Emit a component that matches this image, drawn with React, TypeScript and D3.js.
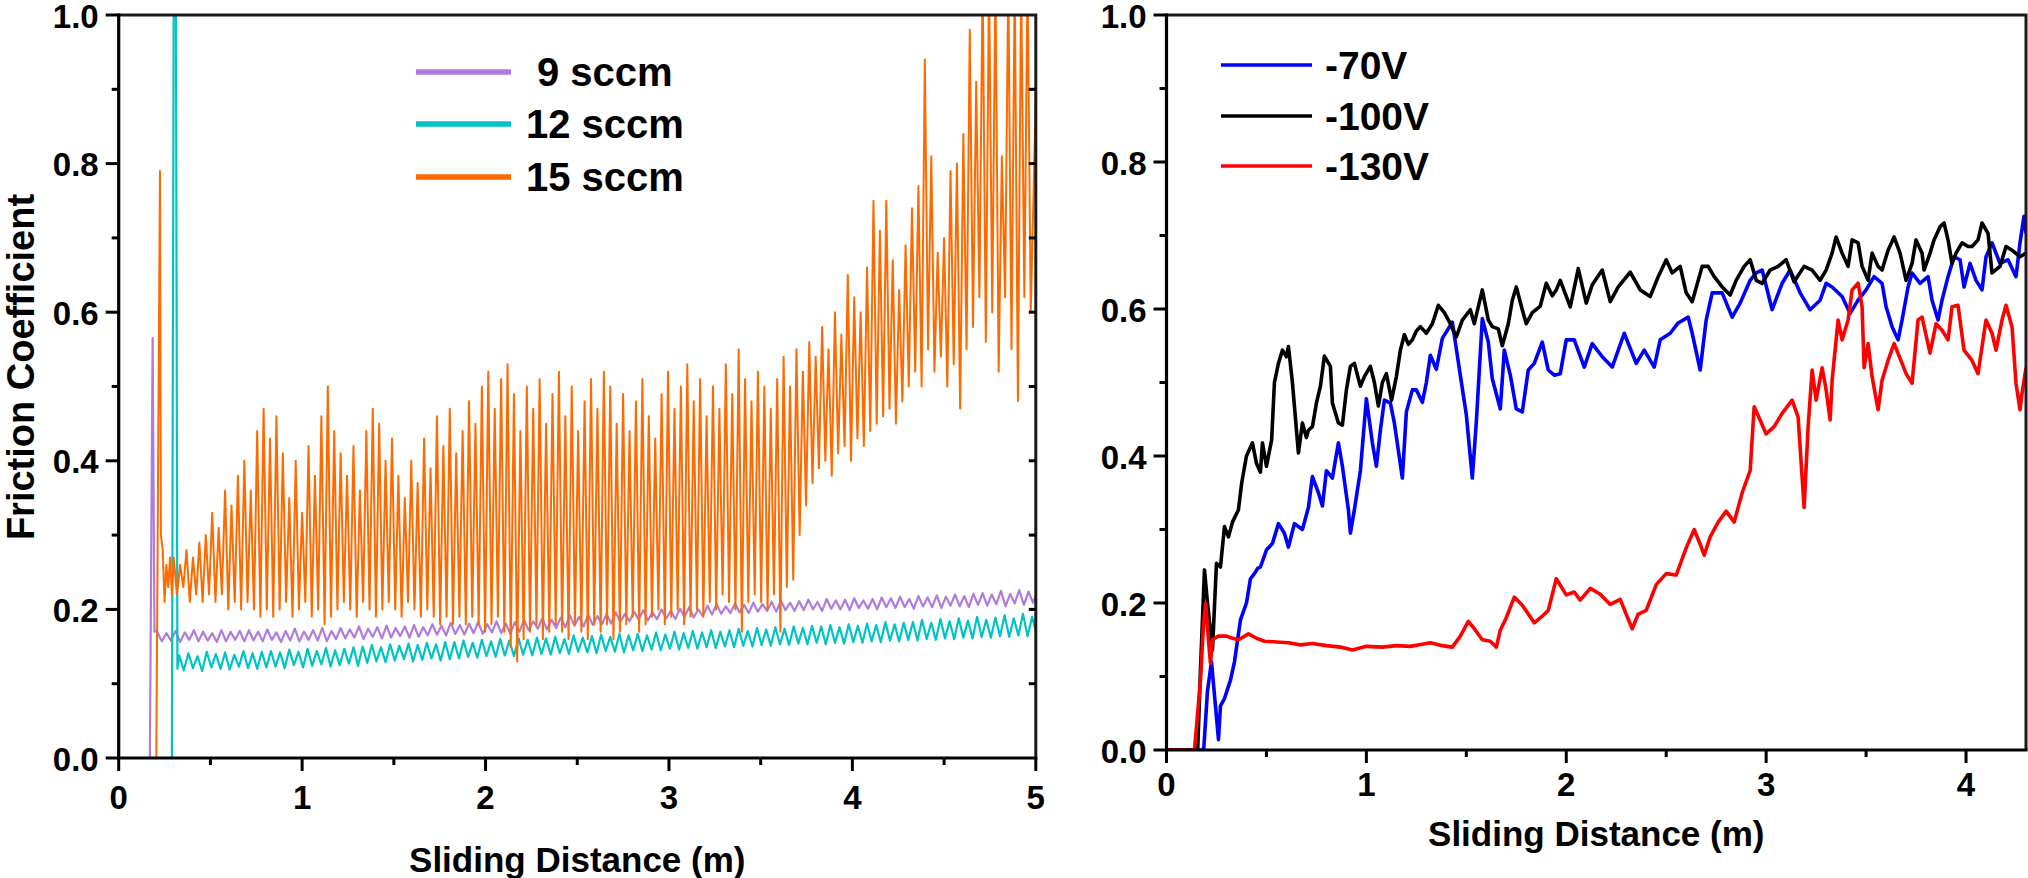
import React from "react";
import * as d3 from "d3";

type Pt = [number, number];

// ---------- left panel: gas flow series ----------
const flowNames = ["9 sccm", "12 sccm", "15 sccm"];
const flowColors = ["#B07CDC", "#00C4C4", "#FF6A00"];

// 9 sccm: run-in spike, then oscillating band (peaks / troughs every 0.05 m from 0.21 m)
const purpleStart: Pt[] = [[0, 0], [0.17, 0], [0.185, 0.565], [0.195, 0.17]];
const purplePeaks = [
  0.170, 0.168, 0.171, 0.169, 0.172, 0.170, 0.168, 0.172, 0.170, 0.171,
  0.172, 0.170, 0.173, 0.169, 0.171, 0.174, 0.170, 0.172, 0.175, 0.171,
  0.175, 0.173, 0.177, 0.174, 0.176, 0.178, 0.175, 0.177, 0.179, 0.176,
  0.180, 0.178, 0.182, 0.179, 0.181, 0.183, 0.180, 0.184, 0.181, 0.183,
  0.186, 0.184, 0.188, 0.186, 0.189, 0.192, 0.190, 0.193, 0.191, 0.194,
  0.196, 0.194, 0.197, 0.199, 0.196, 0.200, 0.198, 0.201, 0.203, 0.200,
  0.205, 0.207, 0.204, 0.208, 0.206, 0.209, 0.207, 0.210, 0.212, 0.209,
  0.211, 0.213, 0.210, 0.214, 0.212, 0.213, 0.215, 0.212, 0.214, 0.216,
  0.215, 0.217, 0.214, 0.218, 0.216, 0.219, 0.217, 0.220, 0.218, 0.221,
  0.222, 0.220, 0.225, 0.221, 0.226, 0.224,
];
const purpleTroughs = [
  0.157, 0.158, 0.156, 0.159, 0.157, 0.158, 0.156, 0.157, 0.159, 0.157,
  0.158, 0.157, 0.159, 0.156, 0.158, 0.157, 0.159, 0.158, 0.157, 0.160,
  0.161, 0.162, 0.160, 0.163, 0.161, 0.162, 0.164, 0.162, 0.163, 0.165,
  0.166, 0.165, 0.167, 0.166, 0.168, 0.167, 0.169, 0.168, 0.167, 0.170,
  0.172, 0.174, 0.173, 0.175, 0.176, 0.178, 0.177, 0.179, 0.180, 0.181,
  0.183, 0.184, 0.186, 0.185, 0.187, 0.188, 0.187, 0.190, 0.189, 0.191,
  0.193, 0.194, 0.195, 0.196, 0.195, 0.197, 0.198, 0.197, 0.199, 0.198,
  0.199, 0.200, 0.198, 0.201, 0.200, 0.199, 0.202, 0.201, 0.200, 0.203,
  0.202, 0.203, 0.201, 0.204, 0.203, 0.202, 0.205, 0.204, 0.203, 0.206,
  0.205, 0.207, 0.204, 0.208, 0.206, 0.209,
];
const purpleEnd: Pt[] = [[5.0, 0.218]];

// 12 sccm: spike off scale, then band (every 0.05 m from 0.33 m)
const cyanStart: Pt[] = [[0, 0], [0.29, 0], [0.30, 1.03], [0.312, 1.03], [0.32, 0.12]];
const cyanPeaks = [
  0.138, 0.141, 0.137, 0.143, 0.140, 0.142, 0.139, 0.144, 0.141, 0.143,
  0.144, 0.142, 0.146, 0.143, 0.147, 0.144, 0.148, 0.145, 0.147, 0.149,
  0.150, 0.152, 0.149, 0.153, 0.151, 0.154, 0.152, 0.155, 0.153, 0.156,
  0.156, 0.158, 0.155, 0.159, 0.157, 0.160, 0.158, 0.161, 0.159, 0.162,
  0.161, 0.163, 0.160, 0.165, 0.162, 0.164, 0.166, 0.163, 0.167, 0.165,
  0.167, 0.165, 0.169, 0.166, 0.170, 0.168, 0.171, 0.169, 0.172, 0.170,
  0.172, 0.174, 0.171, 0.175, 0.173, 0.176, 0.174, 0.177, 0.175, 0.178,
  0.177, 0.179, 0.176, 0.180, 0.178, 0.181, 0.179, 0.183, 0.180, 0.182,
  0.183, 0.186, 0.182, 0.187, 0.184, 0.188, 0.185, 0.190, 0.186, 0.189,
  0.192, 0.188, 0.194, 0.190,
];
const cyanTroughs = [
  0.118, 0.121, 0.117, 0.122, 0.120, 0.119, 0.123, 0.121, 0.120, 0.122,
  0.123, 0.121, 0.125, 0.122, 0.124, 0.126, 0.123, 0.125, 0.127, 0.124,
  0.128, 0.130, 0.129, 0.131, 0.133, 0.130, 0.132, 0.134, 0.131, 0.133,
  0.134, 0.136, 0.135, 0.137, 0.136, 0.138, 0.137, 0.139, 0.138, 0.140,
  0.139, 0.141, 0.140, 0.143, 0.142, 0.141, 0.144, 0.143, 0.142, 0.145,
  0.144, 0.146, 0.145, 0.147, 0.146, 0.148, 0.147, 0.149, 0.148, 0.150,
  0.149, 0.151, 0.150, 0.152, 0.151, 0.153, 0.152, 0.154, 0.153, 0.155,
  0.153, 0.155, 0.154, 0.156, 0.155, 0.157, 0.156, 0.158, 0.157, 0.159,
  0.158, 0.160, 0.159, 0.161, 0.160, 0.162, 0.161, 0.163, 0.162, 0.164,
  0.163, 0.165, 0.164, 0.166,
];
const cyanEnd: Pt[] = [[5.0, 0.185]];

// 15 sccm: stick-slip, peaks / troughs every 0.035 m from 0.30 m
const orangeStart: Pt[] = [
  [0, 0], [0.205, 0], [0.225, 0.79], [0.23, 0.30], [0.24, 0.28], [0.25, 0.21],
  [0.26, 0.26], [0.27, 0.23], [0.28, 0.27], [0.29, 0.22],
];
const orangePeaks = [
  0.27, 0.26, 0.28, 0.27, 0.29, 0.30,
  0.33, 0.31, 0.36, 0.34, 0.38,
  0.40, 0.36, 0.44, 0.47, 0.43,
  0.46, 0.41, 0.35, 0.40, 0.33,
  0.42, 0.38, 0.46, 0.50, 0.44,
  0.41, 0.38, 0.42, 0.36, 0.44,
  0.47, 0.45, 0.40, 0.43, 0.38,
  0.35, 0.40, 0.37, 0.43, 0.39,
  0.46, 0.42, 0.47, 0.41, 0.44,
  0.48, 0.45, 0.50, 0.52, 0.47,
  0.51, 0.53, 0.49, 0.44, 0.50,
  0.47, 0.51, 0.45, 0.49, 0.52,
  0.46, 0.50, 0.44, 0.48, 0.51,
  0.47, 0.52, 0.50, 0.45, 0.49,
  0.44, 0.48, 0.51, 0.46, 0.43,
  0.49, 0.52, 0.47, 0.50, 0.53,
  0.48, 0.51, 0.46, 0.50, 0.47,
  0.53, 0.49, 0.55, 0.51, 0.48,
  0.52, 0.50, 0.47, 0.51, 0.54,
  0.50, 0.55, 0.52, 0.56, 0.54,
  0.58, 0.55, 0.60, 0.57, 0.65,
  0.62, 0.60, 0.66, 0.75, 0.71,
  0.75, 0.67, 0.63, 0.69, 0.74,
  0.77, 0.94, 0.81, 0.68, 0.70,
  0.79, 0.80, 0.84, 0.98, 0.91,
  1.05, 1.05, 1.05, 0.81, 1.05,
  1.05, 1.05, 1.05,
];
const orangeTroughs = [
  0.22, 0.23, 0.21, 0.22, 0.21, 0.22,
  0.21, 0.22, 0.20, 0.21, 0.20,
  0.21, 0.20, 0.19, 0.20, 0.19,
  0.20, 0.21, 0.19, 0.20, 0.21,
  0.19, 0.20, 0.18, 0.19, 0.20,
  0.21, 0.20, 0.19, 0.21, 0.20,
  0.19, 0.20, 0.21, 0.20, 0.19,
  0.21, 0.20, 0.19, 0.20, 0.19,
  0.18, 0.19, 0.18, 0.19, 0.18,
  0.19, 0.18, 0.17, 0.18, 0.19,
  0.17, 0.15, 0.13, 0.16, 0.17,
  0.18, 0.16, 0.17, 0.18, 0.17,
  0.16, 0.18, 0.17, 0.16, 0.18,
  0.17, 0.18, 0.16, 0.17, 0.18,
  0.19, 0.17, 0.18, 0.19, 0.20,
  0.18, 0.19, 0.20, 0.18, 0.19,
  0.20, 0.19, 0.21, 0.20, 0.22,
  0.21, 0.20, 0.17, 0.21, 0.22,
  0.21, 0.20, 0.22, 0.17, 0.23,
  0.24, 0.30, 0.34, 0.37, 0.39,
  0.40, 0.38, 0.41, 0.42, 0.40,
  0.43, 0.42, 0.44, 0.45, 0.46,
  0.47, 0.45, 0.48, 0.50, 0.52,
  0.50, 0.55, 0.52, 0.54, 0.50,
  0.53, 0.47, 0.55, 0.58, 0.62,
  0.56, 0.60, 0.52, 0.62, 0.55,
  0.48, 0.62, 0.60,
];
const orangeEnd: Pt[] = [[5.0, 0.89]];

// ---------- right panel: bias voltage series ----------
const biasNames = ["-70V", "-100V", "-130V"];
const biasColors = ["#0000FF", "#000000", "#FF0000"];

const blue70: Pt[] = [
  [0, 0], [0.186, 0], [0.205, 0.08], [0.225, 0.12], [0.245, 0.06], [0.26, 0.014], [0.27, 0.06],
  [0.29, 0.07], [0.32, 0.095], [0.34, 0.12], [0.37, 0.177], [0.40, 0.2], [0.42, 0.233], [0.44, 0.24],
  [0.456, 0.247], [0.47, 0.249], [0.50, 0.272], [0.53, 0.281], [0.56, 0.308], [0.59, 0.295],
  [0.61, 0.276], [0.64, 0.308], [0.68, 0.30], [0.71, 0.33], [0.73, 0.372], [0.76, 0.35],
  [0.78, 0.332], [0.80, 0.38], [0.83, 0.37], [0.86, 0.418], [0.88, 0.386], [0.91, 0.327],
  [0.92, 0.295], [0.94, 0.327], [0.97, 0.38], [1.00, 0.478], [1.03, 0.418], [1.05, 0.386],
  [1.07, 0.435], [1.09, 0.476], [1.12, 0.472], [1.14, 0.445], [1.18, 0.37], [1.20, 0.46],
  [1.23, 0.49], [1.25, 0.49], [1.28, 0.473], [1.30, 0.50], [1.32, 0.537], [1.35, 0.518],
  [1.38, 0.56], [1.43, 0.582], [1.47, 0.51], [1.50, 0.456], [1.53, 0.37], [1.55, 0.446],
  [1.58, 0.587], [1.61, 0.555], [1.63, 0.505], [1.67, 0.464], [1.69, 0.544], [1.72, 0.51],
  [1.75, 0.464], [1.78, 0.46], [1.81, 0.517], [1.84, 0.526], [1.88, 0.555], [1.91, 0.517],
  [1.94, 0.51], [1.97, 0.512], [2.00, 0.558], [2.04, 0.558], [2.09, 0.521], [2.13, 0.553],
  [2.18, 0.535], [2.23, 0.521], [2.29, 0.567], [2.35, 0.526], [2.39, 0.544], [2.44, 0.521],
  [2.47, 0.558], [2.52, 0.567], [2.56, 0.581], [2.61, 0.589], [2.63, 0.567], [2.67, 0.517],
  [2.70, 0.585], [2.73, 0.622], [2.78, 0.622], [2.83, 0.589], [2.87, 0.608], [2.92, 0.639],
  [2.95, 0.649], [2.98, 0.653], [3.03, 0.599], [3.08, 0.635], [3.12, 0.653], [3.17, 0.622],
  [3.22, 0.599], [3.27, 0.612], [3.30, 0.635], [3.33, 0.63], [3.38, 0.617], [3.42, 0.594],
  [3.46, 0.612], [3.50, 0.626], [3.54, 0.644], [3.58, 0.635], [3.60, 0.603], [3.63, 0.576],
  [3.66, 0.558], [3.68, 0.585], [3.71, 0.63], [3.73, 0.649], [3.77, 0.635], [3.81, 0.644],
  [3.83, 0.612], [3.86, 0.585], [3.88, 0.612], [3.91, 0.644], [3.94, 0.671], [3.97, 0.667],
  [3.99, 0.63], [4.02, 0.662], [4.05, 0.639], [4.08, 0.626], [4.10, 0.671], [4.13, 0.69],
  [4.17, 0.662], [4.21, 0.667], [4.25, 0.644], [4.27, 0.69], [4.29, 0.726], [4.30, 0.703],
];

const black100: Pt[] = [
  [0, 0], [0.156, 0], [0.17, 0.11], [0.19, 0.245], [0.205, 0.2], [0.23, 0.136], [0.25, 0.254],
  [0.27, 0.249], [0.29, 0.304], [0.31, 0.29], [0.33, 0.31], [0.36, 0.327], [0.376, 0.363],
  [0.40, 0.40], [0.43, 0.418], [0.45, 0.39], [0.47, 0.378], [0.48, 0.418], [0.50, 0.386],
  [0.526, 0.422], [0.54, 0.50], [0.56, 0.526], [0.58, 0.544], [0.60, 0.535], [0.61, 0.549],
  [0.63, 0.50], [0.66, 0.404], [0.68, 0.445], [0.70, 0.425], [0.71, 0.435], [0.73, 0.44],
  [0.75, 0.472], [0.77, 0.495], [0.79, 0.536], [0.82, 0.522], [0.83, 0.472], [0.86, 0.445],
  [0.88, 0.442], [0.90, 0.49], [0.92, 0.522], [0.94, 0.526], [0.97, 0.495], [0.99, 0.508],
  [1.02, 0.522], [1.04, 0.50], [1.06, 0.468], [1.08, 0.50], [1.10, 0.512], [1.126, 0.476],
  [1.15, 0.508], [1.17, 0.544], [1.19, 0.565], [1.21, 0.552], [1.23, 0.558], [1.25, 0.57],
  [1.27, 0.576], [1.30, 0.567], [1.33, 0.58], [1.36, 0.605], [1.39, 0.595], [1.42, 0.58],
  [1.45, 0.562], [1.48, 0.585], [1.52, 0.599], [1.54, 0.58], [1.58, 0.626], [1.61, 0.585],
  [1.63, 0.576], [1.66, 0.573], [1.68, 0.55], [1.71, 0.58], [1.73, 0.612], [1.75, 0.63],
  [1.78, 0.599], [1.80, 0.58], [1.83, 0.595], [1.87, 0.604], [1.90, 0.635], [1.93, 0.618],
  [1.95, 0.626], [1.97, 0.639], [2.02, 0.603], [2.06, 0.655], [2.10, 0.608], [2.13, 0.633],
  [2.18, 0.653], [2.22, 0.61], [2.26, 0.63], [2.32, 0.65], [2.37, 0.626], [2.42, 0.617],
  [2.46, 0.644], [2.50, 0.667], [2.53, 0.649], [2.57, 0.658], [2.60, 0.622], [2.63, 0.61],
  [2.68, 0.658], [2.71, 0.658], [2.74, 0.644], [2.78, 0.63], [2.82, 0.619], [2.85, 0.639],
  [2.89, 0.658], [2.92, 0.667], [2.95, 0.639], [2.98, 0.635], [3.02, 0.653], [3.06, 0.658],
  [3.10, 0.667], [3.14, 0.637], [3.19, 0.658], [3.23, 0.653], [3.27, 0.639], [3.30, 0.653],
  [3.33, 0.676], [3.35, 0.698], [3.38, 0.676], [3.41, 0.658], [3.43, 0.694], [3.46, 0.69],
  [3.48, 0.658], [3.51, 0.639], [3.53, 0.676], [3.56, 0.658], [3.58, 0.653], [3.61, 0.68],
  [3.64, 0.698], [3.67, 0.676], [3.70, 0.639], [3.73, 0.662], [3.75, 0.694], [3.78, 0.676],
  [3.79, 0.653], [3.82, 0.676], [3.84, 0.694], [3.87, 0.712], [3.89, 0.717], [3.91, 0.694],
  [3.93, 0.662], [3.95, 0.676], [3.98, 0.69], [4.01, 0.685], [4.03, 0.685], [4.06, 0.694],
  [4.08, 0.717], [4.11, 0.703], [4.13, 0.649], [4.17, 0.658], [4.20, 0.685], [4.23, 0.68],
  [4.27, 0.671], [4.30, 0.676],
];

const red130: Pt[] = [
  [0, 0], [0.14, 0], [0.17, 0.095], [0.185, 0.17], [0.196, 0.20], [0.21, 0.15], [0.22, 0.118],
  [0.23, 0.15], [0.26, 0.155], [0.30, 0.155], [0.33, 0.152], [0.36, 0.15], [0.41, 0.158],
  [0.45, 0.152], [0.49, 0.148], [0.55, 0.147], [0.61, 0.146], [0.67, 0.143], [0.73, 0.145],
  [0.80, 0.142], [0.87, 0.14], [0.93, 0.136], [1.00, 0.141], [1.08, 0.14], [1.15, 0.142],
  [1.22, 0.141], [1.28, 0.144], [1.32, 0.146], [1.38, 0.142], [1.43, 0.14], [1.47, 0.155],
  [1.51, 0.175], [1.54, 0.165], [1.58, 0.15], [1.62, 0.148], [1.65, 0.14], [1.67, 0.163],
  [1.70, 0.18], [1.74, 0.208], [1.78, 0.197], [1.81, 0.185], [1.84, 0.173], [1.88, 0.182],
  [1.91, 0.19], [1.95, 0.233], [2.00, 0.211], [2.04, 0.215], [2.07, 0.204], [2.12, 0.22],
  [2.17, 0.212], [2.22, 0.198], [2.27, 0.205], [2.31, 0.178], [2.33, 0.165], [2.36, 0.185],
  [2.40, 0.19], [2.45, 0.225], [2.50, 0.24], [2.55, 0.238], [2.60, 0.275], [2.64, 0.30],
  [2.67, 0.28], [2.69, 0.265], [2.72, 0.29], [2.76, 0.31], [2.80, 0.325], [2.84, 0.31],
  [2.88, 0.35], [2.92, 0.38], [2.94, 0.467], [2.97, 0.449], [3.00, 0.43], [3.04, 0.44],
  [3.08, 0.458], [3.13, 0.476], [3.16, 0.453], [3.19, 0.33], [3.21, 0.44], [3.23, 0.517],
  [3.25, 0.476], [3.28, 0.52], [3.30, 0.49], [3.32, 0.449], [3.33, 0.503], [3.36, 0.585],
  [3.38, 0.558], [3.41, 0.585], [3.43, 0.626], [3.46, 0.635], [3.48, 0.603], [3.49, 0.52],
  [3.51, 0.553], [3.53, 0.508], [3.56, 0.463], [3.58, 0.503], [3.61, 0.53], [3.64, 0.553],
  [3.68, 0.526], [3.70, 0.512], [3.73, 0.499], [3.76, 0.585], [3.78, 0.589], [3.82, 0.54],
  [3.85, 0.58], [3.88, 0.571], [3.91, 0.558], [3.93, 0.603], [3.96, 0.605], [3.99, 0.544],
  [4.03, 0.53], [4.06, 0.512], [4.10, 0.585], [4.13, 0.567], [4.15, 0.544], [4.18, 0.585],
  [4.20, 0.605], [4.23, 0.576], [4.25, 0.499], [4.27, 0.463], [4.28, 0.485], [4.30, 0.52],
];

const yTicks = [0, 0.2, 0.4, 0.6, 0.8, 1.0];
const yMinor = [0.1, 0.3, 0.5, 0.7, 0.9];
const xTicksLeft = [0, 1, 2, 3, 4, 5];
const xTicksRight = [0, 1, 2, 3, 4];
const xMinor = [0.5, 1.5, 2.5, 3.5, 4.5];

// join peak/trough samples taken at a fixed sampling step
function sampled(start: number, step: number, hi: number[], lo: number[]): Pt[] {
  const out: Pt[] = [];
  hi.forEach((h, i) => {
    out.push([start + i * step, h]);
    if (i < lo.length) out.push([start + i * step + step / 2, lo[i]]);
  });
  return out;
}

const FONT = "'Liberation Sans', Arial, Helvetica, sans-serif";
const fmt = d3.format(".1f");

function Panel({ id, x, y, xTicks, series, widths, names, colors, legend, showFrameTicks, titleY, tickY }: any) {
  const [x0, x1] = x.range();
  const [y0, y1] = y.range();
  const line = d3.line<Pt>().x((d) => x(d[0])).y((d) => y(d[1])).curve(d3.curveLinear);
  const minorX = xMinor.filter((v) => v < x.domain()[1]);
  return (
    <g>
      <defs>
        <clipPath id={id}>
          <rect x={x0} y={y1} width={x1 - x0} height={y0 - y1} />
        </clipPath>
      </defs>
      <g clipPath={`url(#${id})`}>
        {series.map((s: Pt[], i: number) => (
          <path key={i} d={line(s) || ""} fill="none" stroke={colors[i]} strokeWidth={widths[i]} strokeLinejoin="round" />
        ))}
      </g>
      {/* frame */}
      <path d={`M${x0},${y1}H${x1}V${y0}`} fill="none" stroke="#1a1a1a" strokeWidth={3} />
      <line x1={x0} x2={x1 + 1.5} y1={y0} y2={y0} stroke="#000" strokeWidth={3.2} />
      <line x1={x0} x2={x0} y1={y1 - 1.5} y2={y0 + 1.5} stroke="#000" strokeWidth={3.2} />
      {/* y ticks */}
      {yTicks.map((t) => (
        <g key={"y" + t}>
          <line x1={x0 - 13} x2={x0} y1={y(t)} y2={y(t)} stroke="#000" strokeWidth={3} />
          <text x={x0 - 20} y={y(t) + 12.5} textAnchor="end" fontFamily={FONT} fontWeight="bold" fontSize={33}>
            {fmt(t)}
          </text>
        </g>
      ))}
      {yMinor.map((t) => (
        <line key={"ym" + t} x1={x0 - 7} x2={x0} y1={y(t)} y2={y(t)} stroke="#000" strokeWidth={3} />
      ))}
      {showFrameTicks &&
        [...yTicks.slice(1, -1), ...yMinor].map((t) => (
          <line key={"yr" + t} x1={x1 - 7} x2={x1} y1={y(t)} y2={y(t)} stroke="#000" strokeWidth={3} />
        ))}
      {/* x ticks */}
      {xTicks.map((t: number) => (
        <g key={"x" + t}>
          <line x1={x(t)} x2={x(t)} y1={y0} y2={y0 + 13} stroke="#000" strokeWidth={3} />
          <text x={x(t)} y={y0 + tickY} textAnchor="middle" fontFamily={FONT} fontWeight="bold" fontSize={33}>
            {t}
          </text>
        </g>
      ))}
      {minorX.map((t) => (
        <line key={"xm" + t} x1={x(t)} x2={x(t)} y1={y0} y2={y0 + 7} stroke="#000" strokeWidth={3} />
      ))}
      <text x={(x0 + x1) / 2} y={titleY} textAnchor="middle" fontFamily={FONT} fontWeight="bold" fontSize={35}>
        Sliding Distance (m)
      </text>
      {/* legend */}
      {names.map((n: string, i: number) => (
        <g key={n}>
          <line x1={legend.x1} x2={legend.x2} y1={legend.y[i]} y2={legend.y[i]} stroke={colors[i]} strokeWidth={legend.w} />
          <text x={legend.tx[i]} y={legend.y[i] + 14} fontFamily={FONT} fontWeight="bold" fontSize={legend.fs}>
            {n}
          </text>
        </g>
      ))}
    </g>
  );
}

export default function App() {
  const xL = d3.scaleLinear().domain([0, 5]).range([118.7, 1035.8]);
  const yL = d3.scaleLinear().domain([0, 1]).range([758, 15]);
  const xR = d3.scaleLinear().domain([0, 4.3]).range([1166.5, 2026]);
  const yR = d3.scaleLinear().domain([0, 1]).range([750, 15]);

  const purple = [...purpleStart, ...sampled(0.21, 0.05, purplePeaks, purpleTroughs), ...purpleEnd];
  const cyan = [...cyanStart, ...sampled(0.33, 0.05, cyanPeaks, cyanTroughs), ...cyanEnd];
  const orange = [...orangeStart, ...sampled(0.30, 0.035, orangePeaks, orangeTroughs), ...orangeEnd];

  return (
    <svg width={2028} height={878} style={{ position: "absolute", left: 0, top: 0, background: "#fff" }}>
      <rect width={2028} height={878} fill="#fff" />
      <Panel
        id="clipL"
        x={xL}
        y={yL}
        xTicks={xTicksLeft}
        series={[purple, cyan, orange]}
        widths={[2.2, 2.2, 2.0]}
        names={flowNames}
        colors={flowColors}
        legend={{ x1: 416, x2: 511, y: [72, 124, 177], tx: [537, 526, 526], w: 5.5, fs: 40 }}
        showFrameTicks={true}
        titleY={872}
        tickY={51}
      />
      <Panel
        id="clipR"
        x={xR}
        y={yR}
        xTicks={xTicksRight}
        series={[blue70, black100, red130]}
        widths={[3.6, 3.6, 3.6]}
        names={biasNames}
        colors={biasColors}
        legend={{ x1: 1221, x2: 1312, y: [65, 116, 166], tx: [1325, 1325, 1325], w: 3.5, fs: 39 }}
        showFrameTicks={false}
        titleY={846}
        tickY={46}
      />
      <text
        transform="translate(34,367) rotate(-90)"
        textAnchor="middle"
        fontFamily={FONT}
        fontWeight="bold"
        fontSize={38}
      >
        Friction Coefficient
      </text>
    </svg>
  );
}
